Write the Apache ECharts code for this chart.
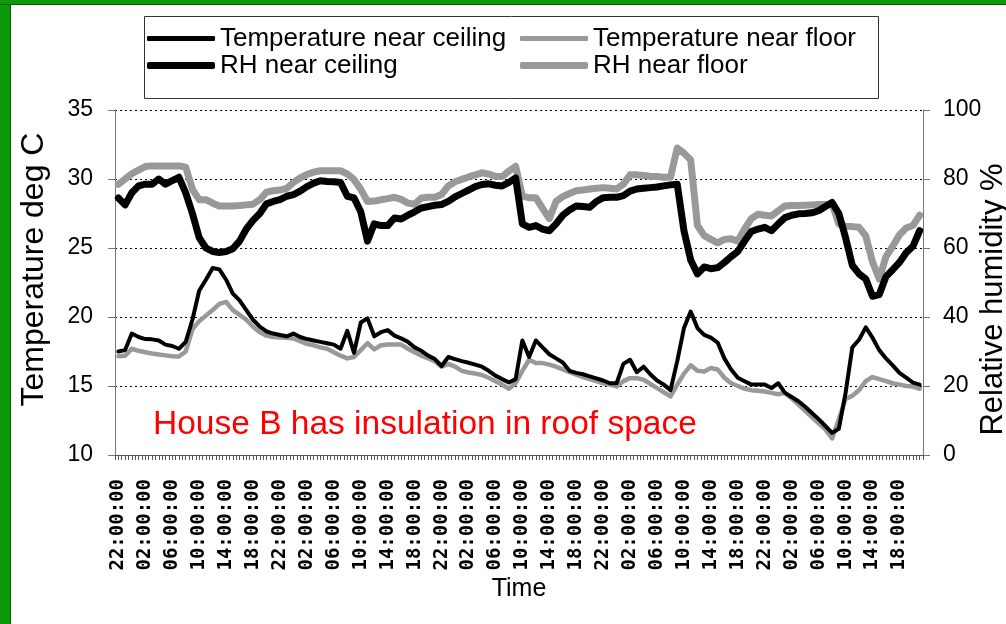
<!DOCTYPE html>
<html>
<head>
<meta charset="utf-8">
<script src="https://cdn.jsdelivr.net/npm/echarts@6/dist/echarts.min.js"></script>
<style>
  html, body { margin: 0; padding: 0; background: #ffffff; }
  #chart { position: absolute; left: 0; top: 0; width: 1006px; height: 624px; background: #ffffff; }
  #gl { position: absolute; left: 0; top: 0; width: 10px; height: 624px; background: #0c9a0c; border-right: 1px solid #045a04; }
  #gt { position: absolute; left: 0; top: 0; width: 1006px; height: 4px; background: #0c9a0c; border-bottom: 1px solid #045a04; }
</style>
</head>
<body>
<div id="chart"></div>
<div id="gl"></div>
<div id="gt"></div>
<script>
// Hourly samples starting at 22:00:00 (120 hours)
const startHour = 22;
const nPoints = 120;
const categories = [];
for (let i = 0; i < nPoints; i++) {
  const h = (startHour + i) % 24;
  categories.push((h < 10 ? '0' : '') + h + ':00:00');
}
// Half-hour slots, used only for the dense tick marks of the time axis
const halfHourSlots = [];
for (let i = 0; i < nPoints * 2; i++) {
  const h = (startHour + Math.floor(i / 2)) % 24;
  halfHourSlots.push((h < 10 ? '0' : '') + h + (i % 2 ? ':30' : ':00'));
}

const tempCeiling = [17.5,17.6,18.8,18.55,18.4,18.38,18.3,18.0,17.9,17.7,
 18.2,19.8,21.9,22.7,23.55,23.45,22.7,21.7,21.2,20.5,
 19.8,19.3,18.95,18.8,18.7,18.6,18.8,18.55,18.4,18.3,
 18.2,18.1,18.0,17.7,19.0,17.4,19.6,19.9,18.6,18.9,
 19.05,18.65,18.45,18.2,17.8,17.55,17.2,16.95,16.45,17.1,
 16.95,16.8,16.68,16.55,16.4,16.1,15.75,15.5,15.25,15.5,
 18.3,17.1,18.3,17.8,17.3,17.0,16.7,16.1,15.95,15.85,
 15.7,15.55,15.4,15.2,15.2,16.6,16.9,16.0,16.4,15.85,
 15.4,15.1,14.7,16.8,19.2,20.4,19.2,18.7,18.5,18.15,
 17.0,16.2,15.6,15.35,15.1,15.1,15.1,14.85,15.2,14.5,
 14.2,13.9,13.5,13.05,12.6,12.1,11.6,11.9,14.5,17.8,
 18.35,19.25,18.5,17.6,17.0,16.5,15.95,15.6,15.25,15.1];

const tempFloor = [17.15,17.2,17.7,17.55,17.45,17.35,17.28,17.22,17.16,17.14,
 17.5,19.1,19.7,20.1,20.5,20.95,21.1,20.5,20.15,19.8,
 19.3,18.9,18.65,18.55,18.52,18.5,18.45,18.25,18.05,17.95,
 17.8,17.7,17.45,17.2,17.0,17.1,17.6,18.1,17.65,17.95,
 18.0,18.0,18.0,17.7,17.45,17.2,17.0,16.8,16.4,16.6,
 16.4,16.1,15.98,15.9,15.8,15.6,15.35,15.1,14.8,15.2,
 16.1,16.9,16.66,16.66,16.55,16.4,16.2,16.0,15.82,15.65,
 15.5,15.35,15.2,15.1,14.97,15.35,15.57,15.57,15.45,15.15,
 14.85,14.55,14.25,15.1,15.9,16.5,16.1,16.05,16.3,16.2,
 15.6,15.2,15.0,14.8,14.7,14.65,14.6,14.5,14.4,14.5,
 14.1,13.65,13.2,12.75,12.3,11.85,11.2,12.6,14.05,14.3,
 14.7,15.35,15.65,15.5,15.35,15.2,15.1,15.0,14.96,14.8];

const rhCeiling = [74.5,72.5,76,78,78.5,78.5,80,78.5,79.5,80.5,
 76,70,63,60,59,58.7,59,59.8,62,65.5,
 68,70,72.8,73.5,74,75,75.5,76.5,77.8,78.8,
 79.5,79.3,79.2,79,75,74.5,70.5,62,67,66.5,
 66.5,68.7,68.4,69.5,70.5,71.6,72,72.4,72.6,73.5,
 74.8,75.8,76.8,77.8,78.4,78.6,78.2,78,79,80.3,
 67,66,66.5,65.5,65,67,69.5,71,72.2,72,
 71.8,73.5,74.6,74.7,74.7,75.2,76.5,77.1,77.3,77.5,
 77.7,78,78.3,78.5,65,56.5,52.5,54.5,54,54.3,
 55.8,57.5,59,62,64.8,65.5,66,65,67,68.8,
 69.5,69.9,70,70.2,70.8,72,73.2,70,63,55,
 52.5,51,46,46.5,51.7,53.7,55.8,58.6,60.5,65];

const rhFloor = [78.5,80,81.5,82.6,83.6,83.8,83.8,83.8,83.8,83.8,
 83.4,77,74,74,73,72.2,72.2,72.2,72.3,72.5,
 72.7,74,76.2,76.6,76.8,77.3,79,80.3,81.3,82,
 82.4,82.4,82.4,82.4,81.5,79.8,77,73.5,73.6,74,
 74.3,74.7,74.1,73,72.7,74.5,74.7,74.7,75.5,78,
 79.2,79.9,80.6,81.2,81.8,81.4,80.8,80.7,82.3,83.7,
 75,74.6,74.6,71.5,68.5,73.5,74.9,75.8,76.6,76.8,
 77.1,77.3,77.5,77.3,77.1,78.5,81.2,81.2,81,80.8,
 80.7,80.5,80.5,89,87.5,85.5,66.5,63.6,62.5,61.5,
 62.5,62.7,62,65.5,68.5,69.8,69.5,69.3,70.8,72.2,
 72.3,72.3,72.4,72.5,72.6,72.6,72.7,67,66.3,66.2,
 66,63.5,56,51,57.5,60.5,63.8,65.8,66.5,69.5];

const seriesNames = ['Temperature near ceiling', 'Temperature near floor', 'RH near ceiling', 'RH near floor'];
const leftTitle = 'Temperature deg C';
const rightTitle = 'Relative humidity %';
const xTitle = 'Time';
const note = 'House B has insulation in roof space';

const FONT = '"Liberation Sans", Arial, sans-serif';

function legendAt(left, top, name, thick) {
  return {
    left: left, top: top, orient: 'horizontal', padding: 0,
    itemWidth: 68, itemHeight: thick, itemGap: 0,
    textStyle: { fontSize: 26, color: '#000', fontFamily: FONT, lineHeight: 27 },
    data: [{ name: name, icon: 'roundRect' }]
  };
}

const chart = echarts.init(document.getElementById('chart'), null, { renderer: 'canvas' });
chart.setOption({
  animation: false,
  backgroundColor: '#ffffff',
  textStyle: { fontFamily: FONT },
  grid: { left: 115, right: 83, top: 110, bottom: 169, containLabel: false, outerBoundsMode: 'none' },
  legend: [
    legendAt(147, 25, seriesNames[0], 5),
    legendAt(520, 25, seriesNames[1], 5),
    legendAt(147, 52, seriesNames[2], 7),
    legendAt(520, 52, seriesNames[3], 7)
  ],
  xAxis: [
    {
      type: 'category',
      data: categories,
      boundaryGap: true,
      name: xTitle,
      nameLocation: 'middle',
      nameGap: 122,
      nameMoveOverlap: false,
      nameTextStyle: { fontSize: 25, color: '#000' },
      axisLine: { lineStyle: { color: '#555', width: 1 } },
      axisTick: { show: false },
      axisLabel: {
        interval: 3, rotate: 90, margin: 24,
        fontSize: 19, fontWeight: 'bold', color: '#000',
        fontFamily: '"DejaVu Sans Mono", "Liberation Mono", monospace'
      },
      splitLine: { show: false }
    },
    {
      type: 'category',
      data: halfHourSlots,
      position: 'bottom',
      boundaryGap: true,
      axisLine: { show: true, lineStyle: { color: '#555', width: 1 } },
      axisTick: { show: true, interval: 0, length: 5, lineStyle: { color: '#555' } },
      axisLabel: { show: false },
      splitLine: { show: false }
    }
  ],
  yAxis: [
    {
      type: 'value', min: 10, max: 35, interval: 5,
      name: leftTitle, nameLocation: 'middle', nameGap: 65, nameRotate: 90,
      nameMoveOverlap: false,
      nameTextStyle: { fontSize: 32, color: '#000', padding: [0, 0, 0, 26] },
      axisLine: { show: true, lineStyle: { color: '#777' } },
      axisTick: { show: true, length: 7, lineStyle: { color: '#777' } },
      axisLabel: { fontSize: 23, color: '#000', margin: 22 },
      splitLine: { show: true, lineStyle: { color: '#000', type: [2, 3], width: 1 } }
    },
    {
      type: 'value', min: 0, max: 100, interval: 20,
      name: rightTitle, nameLocation: 'middle', nameGap: 55, nameRotate: 90,
      nameMoveOverlap: false,
      nameTextStyle: { fontSize: 31, color: '#000', padding: [0, 34, 0, 0] },
      axisLine: { show: true, lineStyle: { color: '#777' } },
      axisTick: { show: true, length: 7, lineStyle: { color: '#777' } },
      axisLabel: { fontSize: 23, color: '#000', margin: 20 },
      splitLine: { show: false }
    }
  ],
  series: [
    { name: seriesNames[3], type: 'line', yAxisIndex: 1, data: rhFloor, showSymbol: false, symbol: 'none',
      color: '#999999', lineStyle: { color: '#999999', width: 7, join: 'round', cap: 'round' }, z: 2 },
    { name: seriesNames[2], type: 'line', yAxisIndex: 1, data: rhCeiling, showSymbol: false, symbol: 'none',
      color: '#000000', lineStyle: { color: '#000000', width: 7, join: 'round', cap: 'round' }, z: 3 },
    { name: seriesNames[1], type: 'line', yAxisIndex: 0, data: tempFloor, showSymbol: false, symbol: 'none',
      color: '#999999', lineStyle: { color: '#999999', width: 4.5, join: 'round', cap: 'round' }, z: 4 },
    { name: seriesNames[0], type: 'line', yAxisIndex: 0, data: tempCeiling, showSymbol: false, symbol: 'none',
      color: '#000000', lineStyle: { color: '#000000', width: 4, join: 'round', cap: 'round' }, z: 5 }
  ],
  graphic: [
    { type: 'rect', left: 142, top: 14, z: 0, silent: true,
      shape: { width: 734, height: 82 },
      style: { fill: 'none', stroke: '#333', lineWidth: 1 } },
    { type: 'text', left: 153, top: 408, z: 10, silent: true,
      style: { text: note, fontSize: 33.5, fill: '#ff0000', fontFamily: FONT } }
  ]
});
</script>
</body>
</html>
